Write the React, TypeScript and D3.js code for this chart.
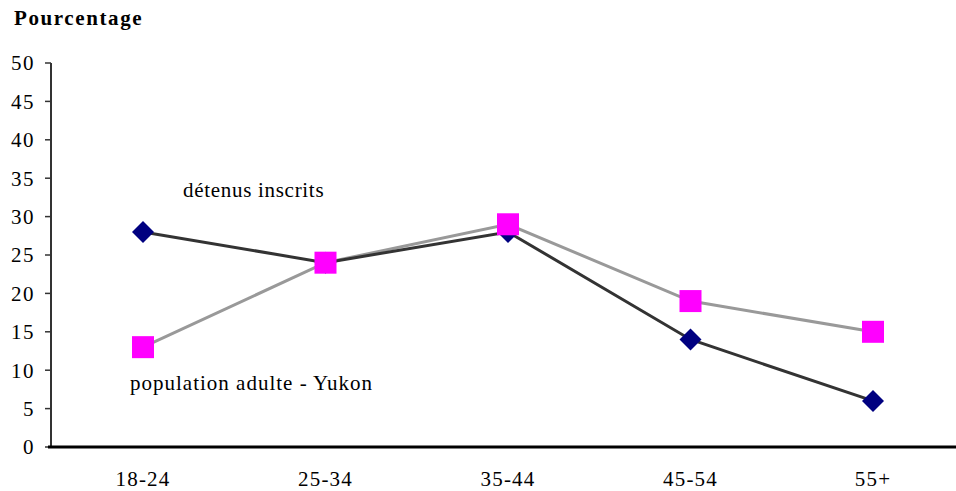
import React from "react";
import * as d3 from "d3";

const categories = ["18-24", "25-34", "35-44", "45-54", "55+"];
const detenus = [28, 24, 28, 14, 6];
const population = [13, 24, 29, 19, 15];
const yTicks = [0, 5, 10, 15, 20, 25, 30, 35, 40, 45, 50];

export default function App() {
  const W = 956, H = 491;
  const x = d3.scalePoint<string>().domain(categories).range([143, 873]);
  const y = d3.scaleLinear().domain([0, 50]).range([447, 63]);
  const line = d3.line<number>().x((_, i) => x(categories[i])!).y((d) => y(d));
  const font = "'Liberation Serif', 'Times New Roman', serif";
  return (
    <svg width={W} height={H} style={{ position: "absolute", left: 0, top: 0 }} fontFamily={font}>
      <rect width={W} height={H} fill="#fff" />
      <text x={14} y={25} fontSize={21} fontWeight="bold" letterSpacing={1.6}>Pourcentage</text>
      <line x1={51} x2={51} y1={y(50)} y2={y(0)} stroke="#333" strokeWidth={2} />
      {yTicks.map((t) => (
        <g key={t}>
          <line x1={45} x2={51} y1={y(t)} y2={y(t)} stroke="#333" strokeWidth={1.5} />
          <text x={35} y={y(t)} dy="0.35em" textAnchor="end" fontSize={21} letterSpacing={1.5}>{t}</text>
        </g>
      ))}
      <line x1={48} x2={956} y1={y(0)} y2={y(0)} stroke="#000" strokeWidth={3} />
      {categories.map((c) => (
        <text key={c} x={x(c)} y={486} textAnchor="middle" fontSize={21} letterSpacing={1.2}>{c}</text>
      ))}
      <path d={line(population)!} fill="none" stroke="#999" strokeWidth={3} />
      <path d={line(detenus)!} fill="none" stroke="#333" strokeWidth={3} />
      {detenus.map((v, i) => (
        <path key={"d" + i} transform={`translate(${x(categories[i])},${y(v)})`}
          d="M0,-11L11,0L0,11L-11,0Z" fill="#000080" />
      ))}
      {population.map((v, i) => (
        <rect key={"p" + i} x={x(categories[i])! - 11} y={y(v) - 11} width={22} height={22} fill="#FF00FF" />
      ))}
      <text x={183} y={197} fontSize={21} letterSpacing={0.7}>détenus inscrits</text>
      <text x={130} y={390} fontSize={21} letterSpacing={1}>population adulte - Yukon</text>
    </svg>
  );
}
